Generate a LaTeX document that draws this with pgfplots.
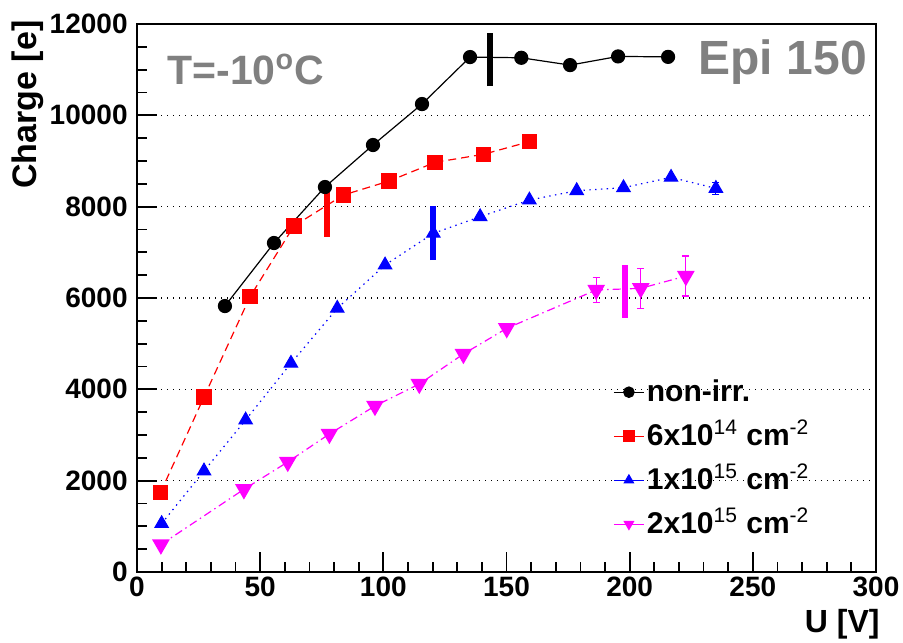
\documentclass[border=0pt]{standalone}
\usepackage{pgfplots}
\pgfplotsset{compat=1.18}
\usepackage{fontspec}
\setmainfont{Liberation Sans}
\definecolor{tgray}{RGB}{128,128,128}
\definecolor{rred}{RGB}{255,0,0}
\definecolor{rblue}{RGB}{0,0,255}
\definecolor{rmag}{RGB}{255,0,255}
\begin{document}
\begin{tikzpicture}
\useasboundingbox (0,0) rectangle (451.5bp,321.5bp);
\begin{axis}[
  at={(68.5bp,35.5bp)}, anchor=south west,
  width=369.5bp, height=274bp, scale only axis,
  xmin=0, xmax=300, ymin=0, ymax=12000,
  xtick={0,50,...,300}, ytick={0,2000,...,12000},
  minor x tick num=4, minor y tick num=3,
  tick pos=left, tick align=inside,
  major tick length=10bp, minor tick length=5bp,
  tick style={black, line width=0.9bp},
  axis line style={black, line width=1.1bp},
  scaled ticks=false,
  /pgf/number format/1000 sep={},
  /pgf/number format/assume math mode=true,
  ticklabel style={font=\fontsize{14bp}{16bp}\selectfont\bfseries},
  yticklabel style={inner xsep=4.5bp},
  xticklabel style={inner ysep=2.5bp},
  ymajorgrids,
  major grid style={black, line width=0.6bp, dash pattern=on 0.6bp off 2.4bp},
  xlabel={U [V]},
  xlabel style={at={(rel axis cs:1.0054,-0.1113)}, anchor=base east, inner sep=0pt, font=\fontsize{16bp}{19bp}\selectfont\bfseries},
  ylabel={Charge [e]},
  ylabel style={at={(rel axis cs:-0.1475,1.007)}, anchor=east, inner sep=0pt, font=\fontsize{17bp}{20bp}\selectfont\bfseries},
  legend image code/.code={\draw[#1, solid, mark size=2.6bp, mark repeat=2, mark phase=2] plot coordinates {(0bp,0bp) (7.5bp,0bp) (15bp,0bp)};},
  legend style={draw=none, fill=none, at={(0.644,0.369)}, anchor=north west,
    font=\fontsize{15bp}{17bp}\selectfont\bfseries, row sep=0pt, inner sep=0pt,
    nodes={inner xsep=1.2bp, inner ysep=0.5bp, text height=15bp, text depth=6bp}},
  legend cell align=left,
]
% depletion voltage markers
\addplot[black, line width=3bp, forget plot] coordinates {(143.3,10640) (143.3,11800)};
\addplot[rred, line width=3bp, forget plot] coordinates {(77,7344) (77,8527)};
\addplot[rblue, line width=3bp, forget plot] coordinates {(120.3,6832) (120.3,8021)};
\addplot[rmag, line width=3bp, forget plot] coordinates {(198.1,5562) (198.1,6722)};

\addplot[black, line width=0.6bp, mark=*, mark size=3.25bp, mark options={solid, fill=black}] coordinates {
(35.7,5824) (55.6,7204) (76.3,8430) (95.8,9350) (115.7,10247) (135.2,11276) (156,11260) (175.8,11100) (195.3,11290) (215.6,11280)};
\addlegendentry{non-irr.}

\addplot[rred, line width=0.6bp, dash pattern=on 4bp off 2.5bp, mark=square*, mark size=3.5bp, mark options={solid, fill=rred}] coordinates {
(9.5,1735) (27.2,3832) (45.9,6030) (63.7,7576) (83.8,8255) (102.3,8560) (121,8970) (140.6,9146) (159.3,9423)};
\addlegendentry{6x10\textsuperscript{\mdseries 14} cm\textsuperscript{\mdseries -2}}

\addplot[rblue, line width=0.6bp, dash pattern=on 0.7bp off 2.2bp, mark=triangle*, mark size=3.8bp, mark options={solid, fill=rblue},
  error bars/.cd, y dir=both, y explicit, error bar style={solid, line width=0.6bp}, error mark options={rotate=90, mark size=1.8bp, solid, line width=0.6bp}] coordinates {
(10,1060) +- (0,0) (27.2,2212) +- (0,0) (44.1,3328) +- (0,0) (62.5,4570) +- (0,0) (81.3,5774) +- (0,0) (100.7,6722) +- (0,0) (120.3,7416) +- (0,0)
(139.3,7780) +- (0,0) (159.3,8145) +- (0,0) (178.5,8350) +- (0,0) (197.5,8415) +- (0,0) (216.8,8642) +- (0,0) (235,8400) +- (0,135)};
\addlegendentry{1x10\textsuperscript{\mdseries 15} cm\textsuperscript{\mdseries -2}}

\addplot[rmag, line width=0.6bp, dash pattern=on 4bp off 2bp on 0.7bp off 2bp, mark=triangle*, mark size=4.5bp, mark options={solid, fill=rmag, rotate=180},
  error bars/.cd, y dir=both, y explicit, error bar style={solid, line width=0.6bp}, error mark options={rotate=90, mark size=1.8bp, solid, line width=0.6bp}] coordinates {
(9.7,600) +- (0,0) (43.4,1810) +- (0,0) (61.2,2409) +- (0,0) (78.1,3022) +- (0,0) (96.6,3635) +- (0,0) (114.6,4117) +- (0,0) (132.5,4773) +- (0,0)
(150.1,5336) +- (0,0) (186.4,6175) +- (0,267) (204.5,6212) +- (0,438) (222.8,6480) +- (0,438)};
\addlegendentry{2x10\textsuperscript{\mdseries 15} cm\textsuperscript{\mdseries -2}}

\node[anchor=base west, text=tgray, inner sep=0pt, font=\fontsize{20.5bp}{24bp}\selectfont\bfseries] at (rel axis cs:0.0406,0.889) {T=-10\textsuperscript{o}C};
\node[anchor=base east, text=tgray, inner sep=0pt, font=\fontsize{24bp}{28bp}\selectfont\bfseries] at (rel axis cs:0.988,0.907) {Epi 150};
\end{axis}
\end{tikzpicture}
\end{document}
